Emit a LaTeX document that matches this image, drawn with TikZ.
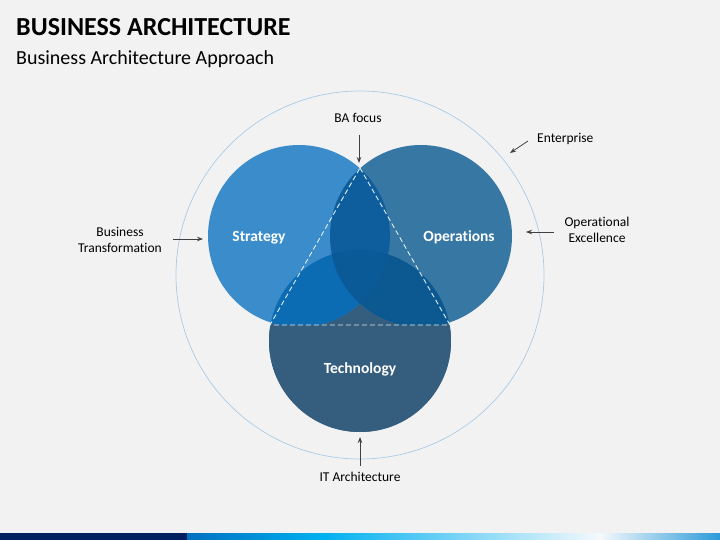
\documentclass[tikz,border=0pt]{standalone}
\usepackage{fontspec}
\setmainfont{Carlito}[RawFeature=-liga]
\usetikzlibrary{arrows.meta}
\definecolor{bgcol}{HTML}{F2F2F2}
\definecolor{stratcol}{HTML}{3A8CCB}
\definecolor{opscol}{HTML}{3677A4}
\definecolor{techcol}{HTML}{355E7E}
\definecolor{stcol}{HTML}{0B6BB3}
\definecolor{socol}{HTML}{0E5E9E}
\definecolor{otcol}{HTML}{0C5890}
\definecolor{allcol}{HTML}{0A5A97}
\definecolor{ringcol}{HTML}{A9CBE8}
\definecolor{arrowcol}{HTML}{404040}
\definecolor{navycol}{HTML}{002060}
\tikzset{>={Stealth[length=6pt,width=4.5pt]}}

\begin{document}
\begin{tikzpicture}[x=1pt,y=-1pt,
    note/.style={font=\fontsize{13.5}{16}\selectfont, align=center, inner sep=0pt},
    circlabel/.style={font=\bfseries\fontsize{15.5}{18}\selectfont, text=white, inner sep=0pt},
    pointer/.style={->, draw=arrowcol, line width=0.8pt}]
    \fill [bgcol] (0,0) rectangle (720,540);
    \useasboundingbox (0,0) rectangle (720,540);

    % title
    \node [anchor=base west, inner sep=0pt, font=\bfseries\fontsize{26}{30}\selectfont] (title) at (16,36) {BUSINESS ARCHITECTURE};
    \node [anchor=base west, inner sep=0pt, font=\fontsize{20}{24}\selectfont] (subtitle) at (16,65) {Business Architecture Approach};

    % centres
    \coordinate (S) at (299,236);
    \coordinate (O) at (421,236);
    \coordinate (T) at (360,341);
    \coordinate (apex) at (360,168);
    \coordinate (baseL) at (270,325);
    \coordinate (baseR) at (450,325);

    \draw [ringcol, line width=0.7pt] (360,275) circle (184);

    % circles
    \fill [techcol] (T) circle (91);
    \fill [stratcol] (S) circle (91);
    \fill [opscol] (O) circle (91);
    \begin{scope}
        \clip (S) circle (91);
        \fill [stcol] (T) circle (91);
        \fill [socol] (O) circle (91);
    \end{scope}
    \begin{scope}
        \clip (O) circle (91);
        \fill [otcol] (T) circle (91);
    \end{scope}
    \begin{scope}
        \clip (S) circle (91);
        \clip (O) circle (91);
        \fill [allcol] (T) circle (91);
    \end{scope}
    \begin{scope}
        \clip (240,325) rectangle (480,440);
        \fill [techcol] (T) circle (91);
    \end{scope}
    \draw [white!85!stratcol, dashed, dash pattern=on 5pt off 3pt, line width=0.9pt] (apex) -- (baseR) -- (baseL) -- cycle;

    \node [circlabel, anchor=base] (strategy) at (259,241) {Strategy};
    \node [circlabel, anchor=base] (operations) at (459,241) {Operations};
    \node [circlabel, anchor=base] (technology) at (360,373) {Technology};

    % outer labels
    \node [note, anchor=base] (focus) at (358,123) {BA focus};
    \node [note, anchor=base west] (enterprise) at (537,143) {Enterprise};
    \node [note] (transform) at (120,240) {Business\\Transformation};
    \node [note] (excellence) at (597,230) {Operational\\Excellence};
    \node [note, anchor=base] (itarch) at (360,481) {IT Architecture};

    \coordinate (focusA) at (359,135);
    \coordinate (focusB) at (359,163);
    \coordinate (entA) at (528,141);
    \coordinate (entB) at (510,153);
    \coordinate (trA) at (173,239);
    \coordinate (trB) at (203,239);
    \coordinate (exA) at (554,232);
    \coordinate (exB) at (526,232);
    \coordinate (itA) at (360,466);
    \coordinate (itB) at (360,437);
    \draw [pointer] (focusA) -- (focusB);
    \draw [pointer] (entA) -- (entB);
    \draw [pointer] (trA) -- (trB);
    \draw [pointer] (exA) -- (exB);
    \draw [pointer] (itA) -- (itB);

    % bottom bar
    \fill [navycol] (0,533) rectangle (187,540);
    \shade [left color={rgb,255:red,0;green,112;blue,192}, right color={rgb,255:red,0;green,176;blue,240}] (187,533) rectangle (321,540);
    \shade [left color={rgb,255:red,0;green,176;blue,240}, right color={rgb,255:red,245;green,249;blue,252}] (321,533) rectangle (600,540);
    \shade [left color={rgb,255:red,245;green,249;blue,252}, right color={rgb,255:red,42;green,154;blue,216}] (600,533) rectangle (720,540);
\end{tikzpicture}
\end{document}
